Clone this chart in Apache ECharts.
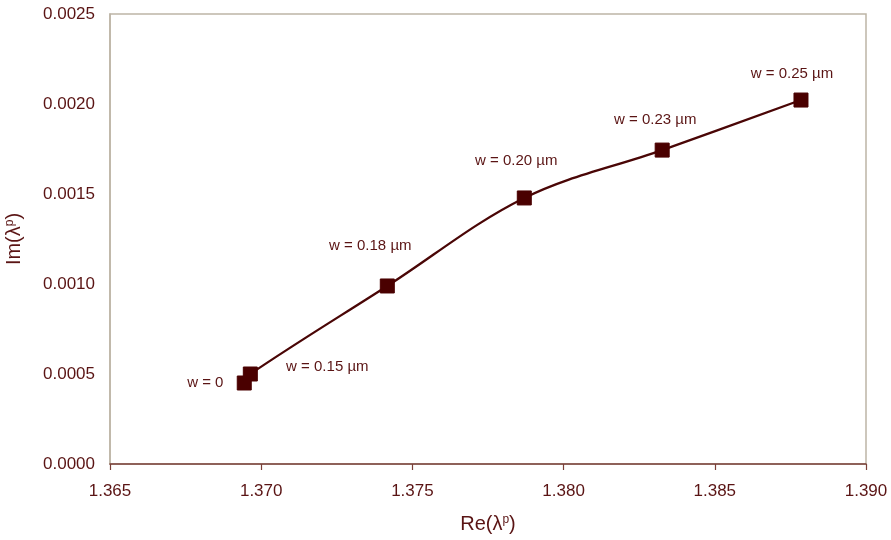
<!DOCTYPE html>
<html>
<head>
<meta charset="utf-8">
<script src="https://cdn.jsdelivr.net/npm/echarts@6/dist/echarts.min.js"></script>
<style>html,body{margin:0;padding:0;background:#fff}#c{width:891px;height:540px}</style>
</head>
<body>
<div id="c"></div>
<script>
const reValues = [1.36944, 1.36964, 1.37417, 1.37870, 1.38326, 1.38785];
const imValues = [0.00045, 0.00050, 0.000989, 0.001478, 0.001744, 0.002022];
const pointLabels = ['w = 0', 'w = 0.15 µm', 'w = 0.18 µm', 'w = 0.20 µm', 'w = 0.23 µm', 'w = 0.25 µm'];
const labelOffsets = [[-39, 0], [77, -7], [-17, -40], [-8, -37], [-7, -30], [-9, -26]];

const textColor = '#5a1414';
const font = 'Liberation Sans, Arial, sans-serif';
const chart = echarts.init(document.getElementById('c'), null, {renderer: 'canvas'});
const data = reValues.map((x, i) => ({
  value: [x, imValues[i]],
  label: {show: true, formatter: pointLabels[i], position: 'inside', offset: labelOffsets[i],
    color: textColor, fontSize: 15, fontFamily: font}
}));
const supRich = {s: {fontSize: 12, verticalAlign: 'top', padding: [0,0,9,0], color: textColor, fontFamily: font}};
chart.setOption({
  animation: false,
  backgroundColor: '#fff',
  grid: {left: 110, right: 25, top: 14, bottom: 76, show: true, borderColor: '#bdb5a6', borderWidth: 1.5,
    containLabel: false, outerBoundsMode: 'none'},
  xAxis: {
    type: 'value', min: 1.365, max: 1.390, interval: 0.005,
    axisLine: {show: true, lineStyle: {color: '#7a4038', width: 1.5}},
    axisTick: {show: true, length: 6, lineStyle: {color: '#7a4038', width: 1.2}},
    splitLine: {show: false},
    axisLabel: {formatter: v => v.toFixed(3), color: textColor, fontSize: 17, fontFamily: font, margin: 19},
    name: 'Re(λ{s|p})', nameLocation: 'middle', nameGap: 50,
    nameTextStyle: {color: textColor, fontSize: 20, fontFamily: font, rich: supRich}
  },
  yAxis: {
    type: 'value', min: 0, max: 0.0025, interval: 0.0005,
    axisLine: {show: true, lineStyle: {color: '#bdb5a6', width: 1.5}},
    axisTick: {show: false},
    splitLine: {show: false},
    axisLabel: {formatter: v => v.toFixed(4), color: textColor, fontSize: 17, fontFamily: font, margin: 15},
    name: 'Im(λ{s|p})', nameLocation: 'middle', nameGap: 85,
    nameTextStyle: {color: textColor, fontSize: 20, fontFamily: font, rich: supRich}
  },
  series: [{
    type: 'line', data: data, smooth: 0.35,
    symbol: 'rect', symbolSize: 14,
    lineStyle: {color: '#4a0606', width: 2.3},
    itemStyle: {color: '#4a0000', borderColor: '#4a0000'}
  }]
});
</script>
</body>
</html>
